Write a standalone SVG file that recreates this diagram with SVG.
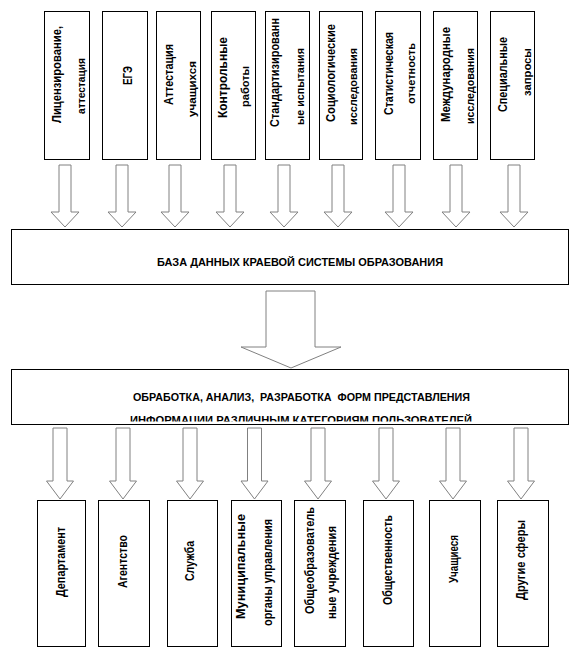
<svg xmlns="http://www.w3.org/2000/svg" width="580" height="672" viewBox="0 0 580 672">
<style>
.box{fill:#fff;stroke:#000;stroke-width:1}
.arr{fill:#fff;stroke:#808080;stroke-width:1}
text{font-family:"Liberation Sans",Arial,sans-serif;font-weight:bold;fill:#000}
.v{font-size:12px;text-anchor:middle}
.s{font-size:10px;text-anchor:middle}
.h{font-size:11px;text-anchor:middle}
</style>
<defs>
<clipPath id="clipB2"><rect x="11" y="369" width="557" height="52.5"/></clipPath>
</defs>
<rect width="580" height="672" fill="#fff"/>

<g id="sources">
<g id="src1"><rect class="box" x="44.5" y="11.5" width="45" height="148"/>
<text class="v" transform="translate(60.5,74.5) rotate(-90)" textLength="97" lengthAdjust="spacingAndGlyphs">Лицензирование,</text>
<text class="s" transform="translate(85,86) rotate(-90)" textLength="56" lengthAdjust="spacingAndGlyphs">аттестация</text></g>
<g id="src2"><rect class="box" x="102.5" y="11.5" width="45" height="148"/>
<text class="v" transform="translate(132,75.5) rotate(-90)" textLength="19" lengthAdjust="spacingAndGlyphs">ЕГЭ</text></g>
<g id="src3"><rect class="box" x="156.5" y="11.5" width="44" height="148"/>
<text class="v" transform="translate(173,74.5) rotate(-90)" textLength="61" lengthAdjust="spacingAndGlyphs">Аттестация</text>
<text class="s" transform="translate(196,89) rotate(-90)" textLength="56" lengthAdjust="spacingAndGlyphs">учащихся</text></g>
<g id="src4"><rect class="box" x="211.5" y="11.5" width="44" height="148"/>
<text class="v" transform="translate(227,77.5) rotate(-90)" textLength="81" lengthAdjust="spacingAndGlyphs">Контрольные</text>
<text class="s" transform="translate(249,86.5) rotate(-90)" textLength="41" lengthAdjust="spacingAndGlyphs">работы</text></g>
<g id="src5"><rect class="box" x="265.5" y="11.5" width="44" height="148"/>
<text class="v" transform="translate(279,72.5) rotate(-90)" textLength="109" lengthAdjust="spacingAndGlyphs">Стандартизированн</text>
<text class="s" transform="translate(304,86.5) rotate(-90)" textLength="77" lengthAdjust="spacingAndGlyphs">ые испытания</text></g>
<g id="src6"><rect class="box" x="319.5" y="11.5" width="43" height="148"/>
<text class="v" transform="translate(335,73) rotate(-90)" textLength="98" lengthAdjust="spacingAndGlyphs">Социологические</text>
<text class="s" transform="translate(357,86.5) rotate(-90)" textLength="77" lengthAdjust="spacingAndGlyphs">исследования</text></g>
<g id="src7"><rect class="box" x="375.5" y="11.5" width="45" height="148"/>
<text class="v" transform="translate(393,73.5) rotate(-90)" textLength="83" lengthAdjust="spacingAndGlyphs">Статистическая</text>
<text class="s" transform="translate(415,73.5) rotate(-90)" textLength="61" lengthAdjust="spacingAndGlyphs">отчетность</text></g>
<g id="src8"><rect class="box" x="433.5" y="11.5" width="44" height="148"/>
<text class="v" transform="translate(450,74.5) rotate(-90)" textLength="95" lengthAdjust="spacingAndGlyphs">Международные</text>
<text class="s" transform="translate(474,86) rotate(-90)" textLength="76" lengthAdjust="spacingAndGlyphs">исследования</text></g>
<g id="src9"><rect class="box" x="490.5" y="11.5" width="44" height="148"/>
<text class="v" transform="translate(507,74.5) rotate(-90)" textLength="75" lengthAdjust="spacingAndGlyphs">Специальные</text>
<text class="s" transform="translate(531,72) rotate(-90)" textLength="48" lengthAdjust="spacingAndGlyphs">запросы</text></g>
</g>

<g id="database"><rect class="box" x="11.5" y="229.5" width="557" height="55"/>
<text class="h" x="300" y="266" textLength="286" lengthAdjust="spacingAndGlyphs">БАЗА ДАННЫХ КРАЕВОЙ СИСТЕМЫ ОБРАЗОВАНИЯ</text></g>

<g id="processing"><rect class="box" x="11.5" y="369.5" width="557" height="55"/>
<text class="h" x="301.5" y="401" textLength="337" lengthAdjust="spacingAndGlyphs" xml:space="preserve">ОБРАБОТКА, АНАЛИЗ,  РАЗРАБОТКА  ФОРМ ПРЕДСТАВЛЕНИЯ</text>
<text class="h" x="301" y="423.5" textLength="342" lengthAdjust="spacingAndGlyphs" clip-path="url(#clipB2)">ИНФОРМАЦИИ РАЗЛИЧНЫМ КАТЕГОРИЯМ ПОЛЬЗОВАТЕЛЕЙ</text></g>

<g id="users">
<g id="u1"><rect class="box" x="37.5" y="500.5" width="48" height="146"/>
<text class="v" transform="translate(65,562) rotate(-90)" textLength="70" lengthAdjust="spacingAndGlyphs">Департамент</text></g>
<g id="u2"><rect class="box" x="98.5" y="500.5" width="51" height="146"/>
<text class="v" transform="translate(127,561.5) rotate(-90)" textLength="53" lengthAdjust="spacingAndGlyphs">Агентство</text></g>
<g id="u3"><rect class="box" x="167.5" y="500.5" width="50" height="146"/>
<text class="v" transform="translate(194,561) rotate(-90)" textLength="40" lengthAdjust="spacingAndGlyphs">Служба</text></g>
<g id="u4"><rect class="box" x="231.5" y="500.5" width="50" height="146"/>
<text class="v" transform="translate(244.5,566.5) rotate(-90)" textLength="105" lengthAdjust="spacingAndGlyphs">Муниципальные</text>
<text class="v" transform="translate(272,572.5) rotate(-90)" textLength="107" lengthAdjust="spacingAndGlyphs">органы управления</text></g>
<g id="u5"><rect class="box" x="294.5" y="500.5" width="51" height="146"/>
<text class="v" transform="translate(313.5,560.5) rotate(-90)" textLength="107" lengthAdjust="spacingAndGlyphs">Общеобразователь</text>
<text class="v" transform="translate(335.5,572.5) rotate(-90)" textLength="93" lengthAdjust="spacingAndGlyphs">ные учреждения</text></g>
<g id="u6"><rect class="box" x="363.5" y="500.5" width="50" height="146"/>
<text class="v" transform="translate(391.5,560) rotate(-90)" textLength="90" lengthAdjust="spacingAndGlyphs">Общественность</text></g>
<g id="u7"><rect class="box" x="429.5" y="500.5" width="51" height="146"/>
<text class="v" transform="translate(458,559) rotate(-90)" textLength="48" lengthAdjust="spacingAndGlyphs">Учащиеся</text></g>
<g id="u8"><rect class="box" x="497.5" y="500.5" width="51" height="146"/>
<text class="v" transform="translate(524.5,560) rotate(-90)" textLength="80" lengthAdjust="spacingAndGlyphs">Другие сферы</text></g>
</g>

<g id="connectors">
<polygon class="arr" points="59,165 71,165 71,212 79,212 65,227 51,212 59,212"/>
<polygon class="arr" points="116,165 128,165 128,212 136,212 122,227 108,212 116,212"/>
<polygon class="arr" points="169,165 181,165 181,212 189,212 175,227 161,212 169,212"/>
<polygon class="arr" points="224,165 236,165 236,212 244,212 230,227 216,212 224,212"/>
<polygon class="arr" points="278,165 290,165 290,212 298,212 284,227 270,212 278,212"/>
<polygon class="arr" points="332,165 344,165 344,212 352,212 338,227 324,212 332,212"/>
<polygon class="arr" points="393,165 405,165 405,212 413,212 399,227 385,212 393,212"/>
<polygon class="arr" points="450,165 462,165 462,212 470,212 456,227 442,212 450,212"/>
<polygon class="arr" points="508,165 520,165 520,212 528,212 514,227 500,212 508,212"/>
<polygon class="arr" points="266,291 315,291 315,347 341,347 291,368 241,347 266,347"/>
<polygon class="arr" points="53,428 67,428 67,481 73.5,481 60,499 46.5,481 53,481"/>
<polygon class="arr" points="116,428 130,428 130,481 136.5,481 123,499 109.5,481 116,481"/>
<polygon class="arr" points="183,428 197,428 197,481 203.5,481 190,499 176.5,481 183,481"/>
<polygon class="arr" points="247.5,428 261.5,428 261.5,481 268,481 254.5,499 241,481 247.5,481"/>
<polygon class="arr" points="311,428 325,428 325,481 331.5,481 318,499 304.5,481 311,481"/>
<polygon class="arr" points="379,428 393,428 393,481 399.5,481 386,499 372.5,481 379,481"/>
<polygon class="arr" points="446,428 460,428 460,481 466.5,481 453,499 439.5,481 446,481"/>
<polygon class="arr" points="514,428 528,428 528,481 534.5,481 521,499 507.5,481 514,481"/>
</g>
</svg>
